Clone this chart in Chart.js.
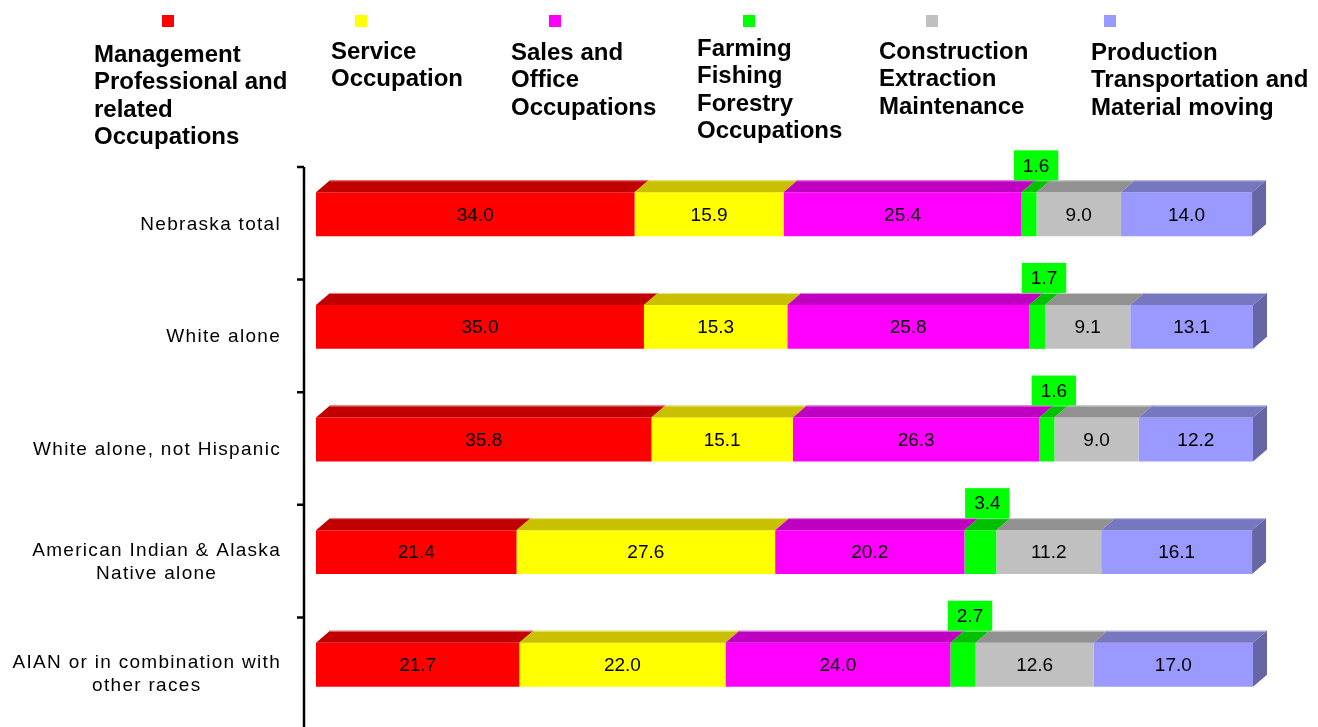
<!DOCTYPE html>
<html>
<head>
<meta charset="utf-8">
<script src="https://cdn.jsdelivr.net/npm/chart.js@4.4.0/dist/chart.umd.min.js"></script>
<style>
html, body { margin: 0; padding: 0; background: #fff; }
#wrap { width: 1318px; height: 727px; }
</style>
</head>
<body>
<div id="wrap"><canvas id="occupationChart" width="1318" height="727"></canvas></div>
<script>
const categories = [
    ['Nebraska total'],
    ['White alone'],
    ['White alone, not Hispanic'],
    ['American Indian & Alaska', 'Native alone'],
    ['AIAN or in combination with', 'other races']
];

const seriesNames = [
    ['Management', 'Professional and', 'related', 'Occupations'],
    ['Service', 'Occupation'],
    ['Sales and', 'Office', 'Occupations'],
    ['Farming', 'Fishing', 'Forestry', 'Occupations'],
    ['Construction', 'Extraction', 'Maintenance'],
    ['Production', 'Transportation and', 'Material moving']
];

const management   = [34.0, 35.0, 35.8, 21.4, 21.7];
const service      = [15.9, 15.3, 15.1, 27.6, 22.0];
const salesOffice  = [25.4, 25.8, 26.3, 20.2, 24.0];
const farming      = [1.6, 1.7, 1.6, 3.4, 2.7];
const construction = [9.0, 9.1, 9.0, 11.2, 12.6];
const production   = [14.0, 13.1, 12.2, 16.1, 17.0];

const seriesValues = [management, service, salesOffice, farming, construction, production];

const frontColors = ['#ff0000', '#ffff00', '#ff00ff', '#00ff00', '#c0c0c0', '#9999ff'];
const topColors   = ['#c00000', '#c8c000', '#c000c0', '#00c000', '#919191', '#7777c0'];
const edgeColors  = ['#e88080', '#e8e888', '#e888e8', '#88e888', '#d0d0d0', '#c0c0ee'];
const sideColor = '#6666a6';

const FONT = '"Liberation Sans", Arial, sans-serif';
const DEPTH_X = 14;
const DEPTH_Y = 12;
const LABEL_SHIFT = 9;

// 3D faces + value labels
const bar3d = {
    id: 'bar3d',
    afterDatasetsDraw(chart) {
        const ctx = chart.ctx;
        const n = chart.data.datasets.length;
        ctx.save();
        chart.data.datasets.forEach((ds, di) => {
            const meta = chart.getDatasetMeta(di);
            meta.data.forEach((el) => {
                const p = el.getProps(['x', 'y', 'base', 'height'], true);
                const left = Math.min(p.base, p.x), right = Math.max(p.base, p.x);
                const top = p.y - p.height / 2, bottom = p.y + p.height / 2;
                ctx.fillStyle = topColors[di];
                ctx.beginPath();
                ctx.moveTo(left, top);
                ctx.lineTo(left + DEPTH_X, top - DEPTH_Y);
                ctx.lineTo(right + DEPTH_X, top - DEPTH_Y);
                ctx.lineTo(right, top);
                ctx.closePath();
                ctx.fill();
                ctx.strokeStyle = edgeColors[di];
                ctx.lineWidth = 1;
                ctx.beginPath();
                ctx.moveTo(left + DEPTH_X, top - DEPTH_Y + 0.5);
                ctx.lineTo(right + DEPTH_X, top - DEPTH_Y + 0.5);
                ctx.stroke();
                if (di === n - 1) {
                    ctx.fillStyle = sideColor;
                    ctx.beginPath();
                    ctx.moveTo(right, top);
                    ctx.lineTo(right + DEPTH_X, top - DEPTH_Y);
                    ctx.lineTo(right + DEPTH_X, bottom - DEPTH_Y);
                    ctx.lineTo(right, bottom);
                    ctx.closePath();
                    ctx.fill();
                }
            });
        });

        ctx.font = '19px ' + FONT;
        ctx.textAlign = 'center';
        ctx.textBaseline = 'middle';
        chart.data.datasets.forEach((ds, di) => {
            const meta = chart.getDatasetMeta(di);
            meta.data.forEach((el, i) => {
                const p = el.getProps(['x', 'y', 'base', 'height'], true);
                const txt = ds.data[i].toFixed(1);
                const cx = (p.base + p.x) / 2;
                if (di === 3) {
                    const w = ctx.measureText(txt).width + 18;
                    const h = 30;
                    const bx = cx + 7 - w / 2;
                    const by = p.y - p.height / 2 - DEPTH_Y - h;
                    ctx.fillStyle = '#00ff00';
                    ctx.fillRect(bx, by, w, h);
                    ctx.fillStyle = '#000';
                    ctx.fillText(txt, cx + 7, by + h / 2 + 1);
                } else {
                    ctx.fillStyle = '#000';
                    ctx.fillText(txt, cx, p.y + 1);
                }
            });
        });
        ctx.restore();
    }
};

// category axis line, ticks and labels
const catAxis = {
    id: 'catAxis',
    afterDraw(chart) {
        const ctx = chart.ctx;
        const area = chart.chartArea;
        const yScale = chart.scales.y;
        const band = (area.bottom - area.top) / categories.length;
        const axisX = area.left - 12;
        ctx.save();
        ctx.strokeStyle = '#000';
        ctx.lineWidth = 2.5;
        ctx.beginPath();
        ctx.moveTo(axisX, area.top + LABEL_SHIFT);
        ctx.lineTo(axisX, chart.height);
        for (let k = 0; k < categories.length; k++) {
            const ty = area.top + k * band + LABEL_SHIFT;
            ctx.moveTo(axisX - 7, ty);
            ctx.lineTo(axisX, ty);
        }
        ctx.stroke();

        ctx.font = '19px ' + FONT;
        ctx.letterSpacing = '1.3px';
        ctx.fillStyle = '#000';
        ctx.textAlign = 'center';
        ctx.textBaseline = 'middle';
        const rightEdge = area.left - 35;
        const lineH = 23;
        categories.forEach((lines, i) => {
            const cy = yScale.getPixelForTick(i) + LABEL_SHIFT;
            const w = Math.max(...lines.map(l => ctx.measureText(l).width));
            const cx = rightEdge - w / 2;
            const y0 = cy - (lines.length - 1) * lineH / 2;
            lines.forEach((l, j) => ctx.fillText(l, cx, y0 + j * lineH + 1));
        });
        ctx.restore();
    }
};

// legend across the top
const topLegend = {
    id: 'topLegend',
    afterDraw(chart, args, opts) {
        const ctx = chart.ctx;
        ctx.save();
        ctx.font = 'bold 24px ' + FONT;
        ctx.textAlign = 'left';
        ctx.textBaseline = 'middle';
        chart.data.datasets.forEach((ds, di) => {
            ctx.fillStyle = frontColors[di];
            ctx.fillRect(opts.squareX[di], 15, 12, 12);
            ctx.fillStyle = '#000';
            seriesNames[di].forEach((l, j) => {
                ctx.fillText(l, opts.textX[di], opts.textY[di] + j * 27.5);
            });
        });
        ctx.restore();
    }
};

const datasets = seriesValues.map((vals, i) => ({
    label: seriesNames[i].join(' '),
    data: vals,
    backgroundColor: frontColors[i],
    borderWidth: 0,
    barPercentage: 0.39,
    categoryPercentage: 1
}));

new Chart(document.getElementById('occupationChart').getContext('2d'), {
    type: 'bar',
    data: {
        labels: categories.map(c => c.join(' ')),
        datasets: datasets
    },
    options: {
        responsive: false,
        animation: false,
        devicePixelRatio: 1,
        indexAxis: 'y',
        layout: {
            padding: { left: 316, right: 65, top: 158, bottom: 6 }
        },
        plugins: {
            legend: { display: false },
            tooltip: { enabled: false },
            topLegend: {
                squareX: [162, 355, 549, 743, 926, 1104],
                textX: [94, 331, 511, 697, 879, 1091],
                textY: [55, 52, 53, 49, 52, 53]
            }
        },
        scales: {
            x: { stacked: true, min: 0, max: 100, display: false },
            y: { stacked: true, display: false }
        }
    },
    plugins: [bar3d, catAxis, topLegend]
});
</script>
</body>
</html>
